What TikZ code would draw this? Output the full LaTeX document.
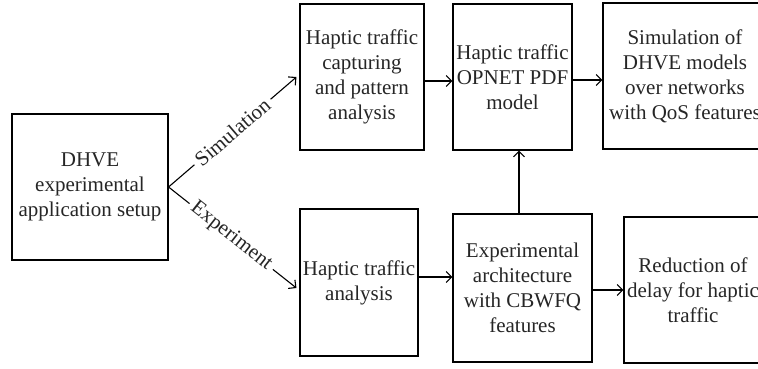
\documentclass[tikz,border=0pt]{standalone}
\usepackage{fontspec}
\setmainfont{Liberation Serif}
\usetikzlibrary{arrows.meta}
\tikzset{
  box/.style={draw, line width=1.1pt, inner sep=1pt, align=center,
    font=\fontsize{21}{25}\selectfont, text=black!85},
  conn/.style={line width=1.1pt, -{Straight Barb[length=5.5pt,width=11pt,line width=1.1pt]}},
  lab/.style={fill=white, inner sep=4pt, font=\fontsize{21}{25}\selectfont, text=black!85}
}
\begin{document}
\begin{tikzpicture}[x=1pt,y=-1pt]
\clip (0,0) rectangle (758,368);
\fill[white] (0,0) rectangle (758,368);
\node[box, minimum width=156pt, minimum height=146pt] (A) at (90,187) {DHVE\\experimental\\application setup};
\node[box, minimum width=124pt, minimum height=146pt] (B) at (362,77) {Haptic traffic\\capturing\\and pattern\\analysis};
\node[box, minimum width=119pt, minimum height=146pt] (C) at (512.5,77) {Haptic traffic\\OPNET PDF\\model};
\node[box, minimum width=164pt, minimum height=146pt] (D) at (685,76) {Simulation of\\DHVE models\\over networks\\with QoS features};
\node[box, minimum width=118pt, minimum height=147pt] (E) at (359,282.5) {Haptic traffic\\analysis};
\node[box, minimum width=139pt, minimum height=148pt] (F) at (522.5,288) {Experimental\\architecture\\with CBWFQ\\features};
\node[box, minimum width=138pt, minimum height=146pt] (G) at (693,290) {Reduction of\\delay for haptic\\traffic};
\coordinate (bt) at ([xshift=-3pt]B.west);
\coordinate (et) at ([xshift=-3pt,yshift=-5.5pt]E.west);
\draw[conn] (A.east) -- node[lab, sloped] {Simulation} (bt);
\draw[conn] (A.east) -- node[lab, sloped, pos=0.49] {Experiment} (et);
\coordinate (b1) at ([yshift=-4pt]B.east);
\draw[conn] (b1) -- (b1 -| C.west);
\coordinate (c1) at ([yshift=-3pt]C.east);
\draw[conn] (c1) -- (c1 -| D.west);
\coordinate (e1) at ([yshift=5.5pt]E.east);
\draw[conn] (e1) -- (e1 -| F.west);
\coordinate (f1) at ([yshift=-2pt]F.east);
\draw[conn] (f1) -- (f1 -| G.west);
\coordinate (f2) at ([xshift=-3.5pt]F.north);
\draw[conn] (f2) -- (f2 |- C.south);
\end{tikzpicture}
\end{document}
